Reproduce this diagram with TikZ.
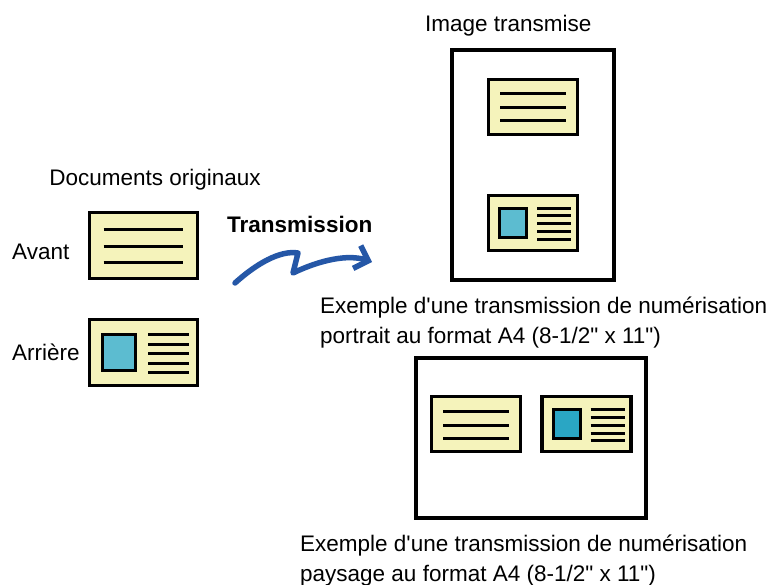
\documentclass[tikz,border=0pt]{standalone}
\usepackage{fontspec}
\newfontfamily\diagfont{Liberation Sans}
\usepackage{tikz}
\usetikzlibrary{arrows.meta, positioning, calc}
\definecolor{cardfill}{RGB}{245,243,187}
\definecolor{photoblue}{RGB}{92,188,208}
\definecolor{phototeal}{RGB}{42,166,196}
\definecolor{sendblue}{RGB}{37,87,167}
\tikzset{
  card/.style={rectangle, draw=black, fill=cardfill, line width=3.2pt},
  page/.style={rectangle, draw=black, fill=white, line width=3.8pt},
  textline/.style={line width=3pt},
  photo/.style={draw=black, line width=3pt},
  txt/.style={font=\diagfont\fontsize{22.5}{30.5}\selectfont, inner sep=0pt},
  caption/.style={txt, align=left, anchor=north west},
  sendarrow/.style={-{Straight Barb[length=12pt, width=24pt]}, line width=5.5pt,
    color=sendblue, line cap=round, line join=round}
}
% card with three text lines: name, x, y, scale
\newcommand{\frontcard}[4]{%
  \node[card, minimum width=#4*89pt, minimum height=#4*55pt] (#1) at (#2,#3) {};
  \begin{scope}[shift={(#1.center)}, scale=#4]
    \foreach \ly in {-13,1,14}
      \draw[textline] (-33,\ly) -- (33,\ly);
  \end{scope}}
% card with a photo and five lines: name, x, y, scale, photo colour
\newcommand{\backcard}[5]{%
  \node[card, minimum width=#4*89pt, minimum height=#4*55pt] (#1) at (#2,#3) {};
  \begin{scope}[shift={(#1.center)}, scale=#4]
    \draw[photo, fill=#5] (-33.5,-14.5) rectangle (-6.5,14.5);
    \foreach \ly in {-14.5,-7,1,9,16.5}
      \draw[textline] (4,\ly) -- (38,\ly);
  \end{scope}}

\begin{document}
\begin{tikzpicture}[x=1pt, y=-1pt]
  \useasboundingbox (0,0) rectangle (776,585);

  % originals
  \node[txt, anchor=base] (orig) at (155,186) {Documents originaux};
  \frontcard{avantcard}{143.5}{245.5}{1.21}
  \backcard{arrierecard}{143.5}{352.5}{1.21}{photoblue}
  \node[txt, anchor=base west] (avant) at (12,260) {Avant};
  \node[txt, anchor=base west] (arriere) at (12,360) {Arrière};

  % transmission
  \node[txt, anchor=base west] (transmission) at (227,233) {\bfseries Transmission};
  \coordinate (sendfrom) at (235,283);
  \coordinate (sendto) at (372,262);
  \draw[sendarrow] (sendfrom) .. controls (256,264) and (280,250) .. (298,253)
    -- (293,273) .. controls (320,260) and (348,254) .. (sendto);

  % portrait page
  \node[txt, anchor=base west] (imgtitle) at (425,32) {Image transmise};
  \node[page, minimum width=162pt, minimum height=230pt] (portrait) at (533,165) {};
  \frontcard{pfront}{533}{107}{1}
  \backcard{pback}{533}{223}{1}{photoblue}
  \node[caption] (pcaption) at (320,296.5)
    {Exemple d'une transmission de numérisation\\portrait au format A4 (8-1/2" x 11")};

  % landscape page
  \node[page, minimum width=230pt, minimum height=160pt] (landscape) at (531,438) {};
  \frontcard{lfront}{476}{424}{1}
  \backcard{lback}{586.5}{424}{1}{phototeal}
  \node[caption] (lcaption) at (300,534.5)
    {Exemple d'une transmission de numérisation\\paysage au format A4 (8-1/2" x 11")};
\end{tikzpicture}
\end{document}
